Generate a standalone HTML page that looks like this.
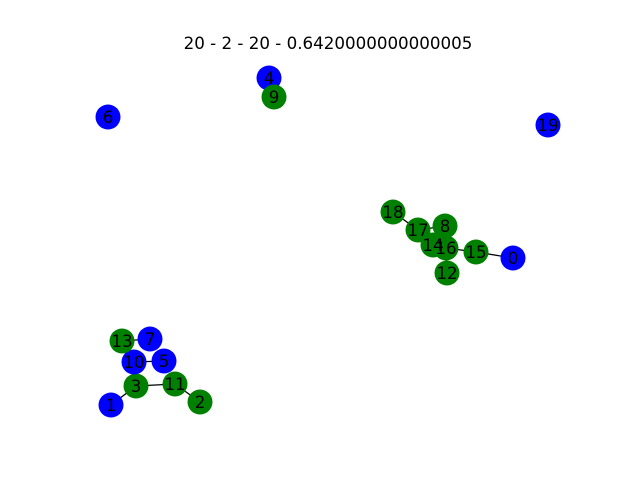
<!DOCTYPE html>
<html><head><meta charset="utf-8"><style>body{margin:0;background:#fff}svg{display:block}</style></head>
<body>
<svg id="g" width="640" height="480" viewBox="0 0 640 480">
<text x="328" y="49" text-anchor="middle" font-family="DejaVu Sans, Liberation Sans, sans-serif" font-size="16.7">20 - 2 - 20 - 0.6420000000000005</text>
</svg>
<script>
const nodeIds=[0,1,2,3,4,5,6,7,8,9,10,11,12,13,14,15,16,17,18,19];
const nodeX=[513,111,200,136,269,164,108,150,445,274,134,175,447,122,433,476,446,418,393,548];
const nodeY=[258,405,402,386,78,361,117,339,226,97,362,384,273,341,245,252,248,230,212,125];
const nodeGroup=[0,0,1,1,0,0,0,0,1,1,0,1,1,1,1,1,1,1,1,0];
const edges=[[18,17],[17,8],[17,14],[14,16],[8,16],[16,15],[15,0],[16,12],[13,7],[10,5],[3,11],[3,1],[11,2]];
const colors=['#0000ff','#008000'];
const svg=document.getElementById('g');const NS='http://www.w3.org/2000/svg';
edges.forEach(([a,b])=>{const l=document.createElementNS(NS,'line');
l.setAttribute('x1',nodeX[a]);l.setAttribute('y1',nodeY[a]);l.setAttribute('x2',nodeX[b]);l.setAttribute('y2',nodeY[b]);
l.setAttribute('stroke','#000');l.setAttribute('stroke-width','1.3');


svg.appendChild(l);});
nodeIds.forEach((id,i)=>{const c=document.createElementNS(NS,'circle');
c.setAttribute('cx',nodeX[i]);c.setAttribute('cy',nodeY[i]);c.setAttribute('r','12.5');c.setAttribute('fill',colors[nodeGroup[i]]);


svg.appendChild(c);});
nodeIds.forEach((id,i)=>{
const t=document.createElementNS(NS,'text');t.setAttribute('x',nodeX[i]);t.setAttribute('y',nodeY[i]+6);
t.setAttribute('text-anchor','middle');t.setAttribute('font-family','DejaVu Sans, Liberation Sans, sans-serif');t.setAttribute('font-size','16.7');
t.textContent=id;


svg.appendChild(t);});
</script>
</body></html>
